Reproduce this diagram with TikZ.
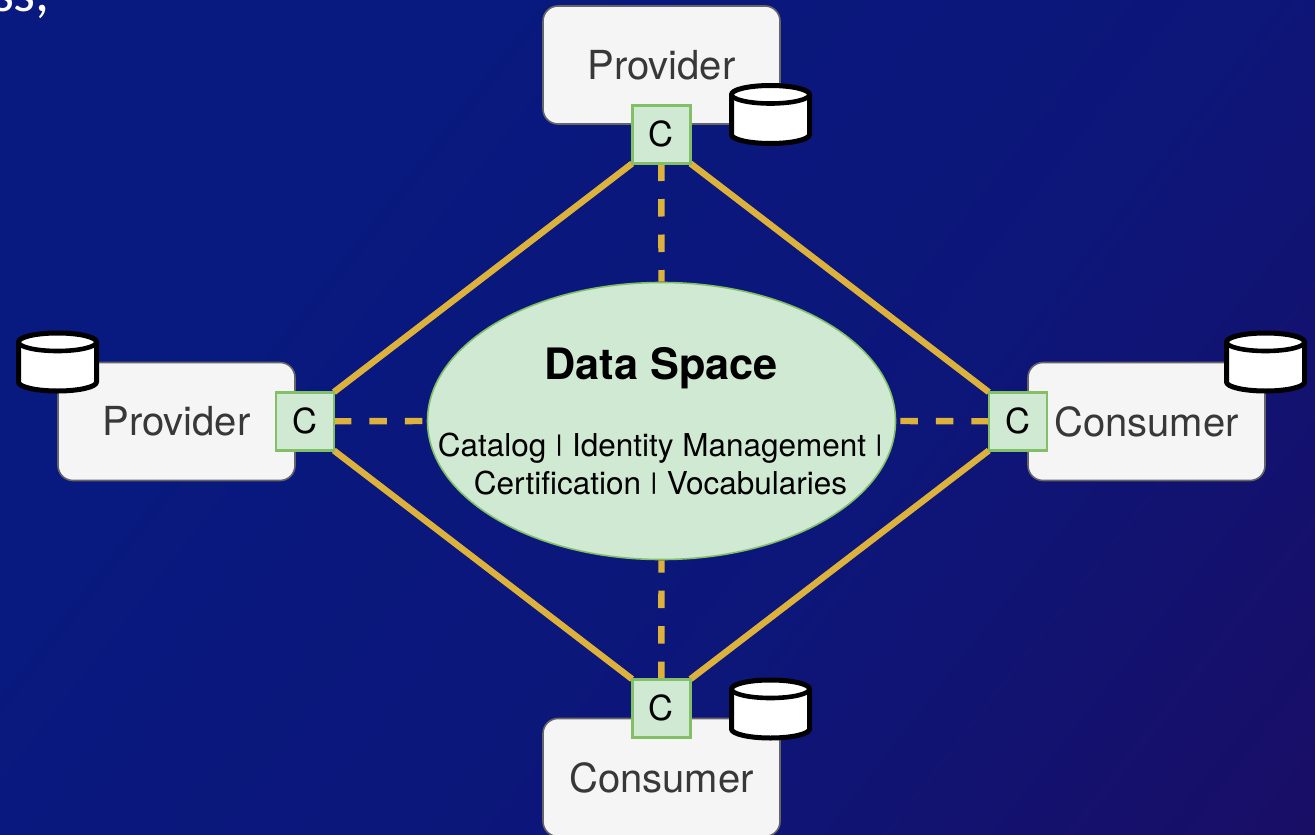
\documentclass[tikz,border=0pt]{standalone}
\usepackage{fontspec}
\setmainfont{TeX Gyre Heros}
\newfontfamily\slidefont{Carlito}
\usetikzlibrary{shapes.geometric}
\definecolor{gold}{HTML}{DDB23C}
\definecolor{boxfill}{HTML}{F5F5F5}
\definecolor{boxline}{HTML}{666666}
\definecolor{greenfill}{HTML}{D0E9D2}
\definecolor{greenline}{HTML}{82BF66}
\definecolor{bgA}{HTML}{08197F}
\definecolor{bgB}{HTML}{0D1679}
\definecolor{bgC}{HTML}{1B0C62}
\pgfdeclareverticalshading{slidebg}{100bp}{color(0bp)=(bgA); color(32bp)=(bgA); color(60bp)=(bgB); color(90bp)=(bgC); color(100bp)=(bgC)}
\newcommand\shortbar{\raisebox{0.16em}{\scalebox{1}[0.72]{|}}}
\tikzset{
  party/.style={draw=boxline,line width=1.6pt,fill=boxfill,rounded corners=15pt,minimum width=237pt,minimum height=118pt,inner sep=0pt,text=black!78,font=\fontsize{40}{40}\selectfont},
  conn/.style={draw=greenline,line width=2.4pt,fill=greenfill,minimum size=58pt,inner sep=0pt,font=\fontsize{34.5}{34.5}\selectfont},
  anchorbox/.style={minimum size=58pt,inner sep=0pt},
  link/.style={draw=gold,line width=6.4pt},
  dlink/.style={link,dash pattern=on 17.5pt off 18pt},
  pics/store/.style={code={
    \draw[black,line width=5pt,fill=white,line join=round] (-39,-20) -- (-39,20) arc[start angle=180,end angle=360,x radius=39,y radius=-9] -- (39,-20) arc[start angle=0,end angle=180,x radius=39,y radius=-9] -- cycle;
    \draw[black,line width=4.6pt] (-39,-20) arc[start angle=180,end angle=360,x radius=39,y radius=-9];
  }}
}
\begin{document}
\begin{tikzpicture}[x=1pt,y=-1pt]
\useasboundingbox (0,0) rectangle (1315,835);
\clip (0,0) rectangle (1315,835);
\shade[shading=slidebg,shading angle=232] (0,0) rectangle (1315,835);
\node[anchor=base east,text=white,font=\slidefont\fontsize{56}{56}\selectfont,inner sep=0pt] (frag) at (50,11) {ss,};

\node[party] (pt) at (661.5,65) {Provider};
\node[party] (pl) at (176.5,421.5) {Provider};
\node[party] (cr) at (1146.5,421.5) {Consumer};
\node[party] (cb) at (661.5,777.5) {Consumer};

\node[ellipse,draw=greenline,line width=1.6pt,fill=greenfill,minimum width=468pt,minimum height=277pt,inner sep=0pt] (ds) at (661.5,421) {};
\node[font=\bfseries\fontsize{43.3}{43.3}\selectfont,inner sep=0pt] (dst) at (661,368) {Data Space};
\node[font=\fontsize{31.5}{37.5}\selectfont,align=center,inner sep=0pt] (dsd) at (660.5,464) {Catalog \shortbar{} Identity Management \shortbar\\Certification \shortbar{} Vocabularies};

\coordinate (ct) at (661.3,134.3);
\coordinate (cl) at (304.7,421.3);
\coordinate (cc) at (1018,421.3);
\coordinate (cd) at (661.3,708.3);
\node[anchorbox] (at) at (ct) {};
\node[anchorbox] (al) at (cl) {};
\node[anchorbox] (ac) at (cc) {};
\node[anchorbox] (ad) at (cd) {};

\draw[link] (at.south west) -- (al.north east);
\draw[link] (at.south east) -- (ac.north west);
\draw[link] (al.south east) -- (ad.north west);
\draw[link] (ac.south west) -- (ad.north east);
\draw[dlink] (at.south) -- (ds.north);
\draw[dlink] (al.east) -- (ds.west);
\draw[dlink] (ac.west) -- (ds.east);
\draw[dlink] (ad.north) -- (ds.south);

\node[conn] (nt) at (ct) {C};
\node[conn] (nl) at (cl) {C};
\node[conn] (nc) at (cc) {C};
\node[conn] (nd) at (cd) {C};

\pic at (770.5,114.5) {store};
\pic at (57.5,362) {store};
\pic at (1265.5,362) {store};
\pic at (770.5,709) {store};
\end{tikzpicture}
\end{document}
